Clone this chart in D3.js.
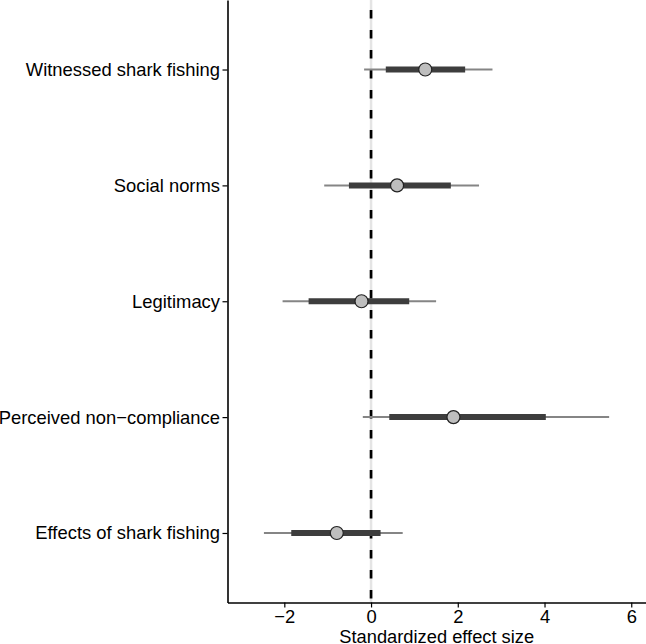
<!DOCTYPE html>
<meta charset="utf-8">
<style>
body { margin: 0; background: #fff; }
svg { display: block; font-family: "Liberation Sans", Arial, sans-serif; }
.axis path, .axis line { stroke: #000; }
.axis text { fill: #000; font-size: 18.4px; }
</style>
<body>
<script src="https://cdn.jsdelivr.net/npm/d3@7"></script>
<script>

var categories = ["Witnessed shark fishing", "Social norms", "Legitimacy", "Perceived non\u2212compliance", "Effects of shark fishing"];
var estimate = [1.25, 0.60, -0.22, 1.90, -0.79];
var outerLow = [-0.16, -1.08, -2.04, -0.19, -2.47];
var outerHigh = [2.80, 2.49, 1.50, 5.49, 0.73];
var innerLow = [0.34, -0.51, -1.44, 0.42, -1.84];
var innerHigh = [2.17, 1.84, 0.88, 4.03, 0.22];
var xTicks = [-2, 0, 2, 4, 6];

var W = 646, H = 644;
var m = { left: 227.5, right: 646, top: 0, bottom: 602.5 };

var data = categories.map(function(c, i) {
  return { cat: c, est: estimate[i], lo: outerLow[i], hi: outerHigh[i], lo2: innerLow[i], hi2: innerHigh[i] };
});

var x = d3.scaleLinear().domain([-3.31, 6.34]).range([m.left, m.right]);
var y = d3.scalePoint().domain(categories).range([m.top, m.bottom]).padding(0.6);

var svg = d3.select("body").append("svg")
    .attr("width", W)
    .attr("height", H);

// zero reference
svg.append("line")
    .attr("x1", x(0)).attr("x2", x(0))
    .attr("y1", m.top).attr("y2", m.bottom)
    .attr("stroke", "#e4e4e4")
    .attr("stroke-width", 2.5);
svg.append("line")
    .attr("x1", x(0)).attr("x2", x(0))
    .attr("y1", m.top).attr("y2", m.bottom)
    .attr("stroke", "#000")
    .attr("stroke-width", 2.7)
    .attr("stroke-dasharray", "8.5,11.5")
    .attr("stroke-dashoffset", 10);

var row = svg.selectAll("g.row")
    .data(data)
  .enter().append("g")
    .attr("class", "row");

row.append("line")
    .attr("x1", function(d) { return x(d.lo); })
    .attr("x2", function(d) { return x(d.hi); })
    .attr("y1", function(d) { return y(d.cat); })
    .attr("y2", function(d) { return y(d.cat); })
    .attr("stroke", "#858585")
    .attr("stroke-width", 2);

row.append("line")
    .attr("x1", function(d) { return x(d.lo2); })
    .attr("x2", function(d) { return x(d.hi2); })
    .attr("y1", function(d) { return y(d.cat); })
    .attr("y2", function(d) { return y(d.cat); })
    .attr("stroke", "#3d3d3d")
    .attr("stroke-width", 6);

row.append("circle")
    .attr("cx", function(d) { return x(d.est); })
    .attr("cy", function(d) { return y(d.cat); })
    .attr("r", 6.5)
    .attr("fill", "#bebebe")
    .attr("stroke", "#222")
    .attr("stroke-width", 1.2);

var xAxis = svg.append("g")
    .attr("class", "axis")
    .attr("transform", "translate(0," + m.bottom + ")")
    .call(d3.axisBottom(x).tickValues(xTicks).tickSize(5).tickSizeOuter(0).tickPadding(2.5)
      .tickFormat(function(d) { return d < 0 ? "\u2212" + Math.abs(d) : d; }));
xAxis.select(".domain").attr("stroke-width", 1.6);
xAxis.selectAll(".tick line").attr("stroke-width", 1.2);

var yAxis = svg.append("g")
    .attr("class", "axis")
    .attr("transform", "translate(" + m.left + ",0)")
    .call(d3.axisLeft(y).tickSize(5).tickSizeOuter(0).tickPadding(2.5));
yAxis.select(".domain").attr("stroke-width", 1.6);
yAxis.selectAll(".tick line").attr("stroke-width", 1.2);

svg.append("text")
    .attr("x", (m.left + m.right) / 2)
    .attr("y", 642.5)
    .attr("text-anchor", "middle")
    .attr("font-size", 18.3)
    .text("Standardized effect size");

</script>
